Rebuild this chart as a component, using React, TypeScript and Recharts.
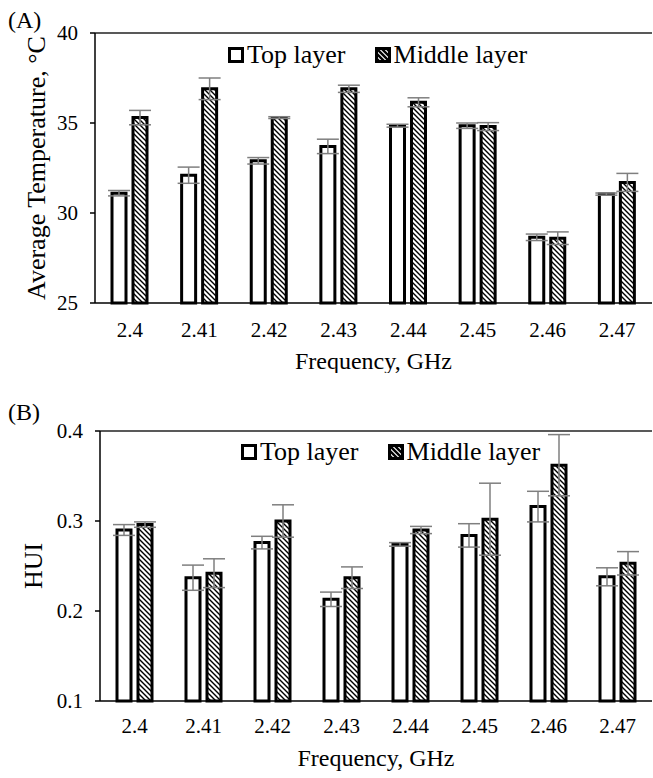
import React from "react";
import { BarChart, Bar, XAxis, YAxis, Legend, ReferenceLine, ErrorBar } from "recharts";

const freqs = ["2.4", "2.41", "2.42", "2.43", "2.44", "2.45", "2.46", "2.47"];

// (A) average temperature, °C
const tempTop = [31.1, 32.1, 32.9, 33.7, 34.85, 34.85, 28.65, 31.05];
const tempTopErr = [0.15, 0.45, 0.18, 0.4, 0.08, 0.15, 0.18, 0.06];
const tempMid = [35.3, 36.9, 35.3, 36.9, 36.15, 34.8, 28.6, 31.7];
const tempMidErr = [0.4, 0.6, 0.05, 0.2, 0.25, 0.22, 0.35, 0.5];
const tempTicks = [25, 30, 35, 40];

// (B) heating uniformity index
const huiTop = [0.29, 0.237, 0.276, 0.213, 0.274, 0.284, 0.316, 0.238];
const huiTopErr = [0.006, 0.014, 0.007, 0.008, 0.002, 0.013, 0.017, 0.01];
const huiMid = [0.296, 0.242, 0.3, 0.237, 0.29, 0.302, 0.362, 0.253];
const huiMidErr = [0.003, 0.016, 0.018, 0.012, 0.004, 0.04, 0.034, 0.013];
const huiTicks = [0.1, 0.2, 0.3, 0.4];

const seriesNames = { top: "Top layer", mid: "Middle layer" };

const FONT = "Liberation Serif";

const tempData = freqs.map((f, i) => ({
  freq: f,
  top: tempTop[i],
  topErr: tempTopErr[i],
  mid: tempMid[i],
  midErr: tempMidErr[i],
}));

const huiData = freqs.map((f, i) => ({
  freq: f,
  top: huiTop[i],
  topErr: huiTopErr[i],
  mid: huiMid[i],
  midErr: huiMidErr[i],
}));

function Hatch({ id, size = 5, w = 1.4 }: { id: string; size?: number; w?: number }) {
  return (
    <defs>
      <pattern id={id} patternUnits="userSpaceOnUse" width={size} height={size}>
        <rect width={size} height={size} fill="#fff" />
        <path
          d={`M0,0 L${size},${size} M${-size / 2},${size / 2} L${size / 2},${size * 1.5} M${size / 2},${-size / 2} L${size * 1.5},${size / 2}`}
          stroke="#000"
          strokeWidth={w}
        />
      </pattern>
    </defs>
  );
}

function LegendIcon({ hatched, id }: { hatched: boolean; id: string }) {
  return (
    <svg width={16} height={16} style={{ marginRight: 3 }}>
      {hatched && <Hatch id={id} size={5} w={2.4} />}
      <rect x={1.5} y={1.5} width={13} height={13} fill={hatched ? `url(#${id})` : "#fff"} stroke="#000" strokeWidth={3} />
    </svg>
  );
}

const order = ["top", "mid"];

const makeLegend = (tag: string) => (props: any) => {
  const items = [...(props.payload || [])].sort(
    (a: any, b: any) => order.indexOf(a.dataKey) - order.indexOf(b.dataKey)
  );
  return (
    <div style={{ display: "flex", alignItems: "center", fontFamily: FONT, fontSize: 26, lineHeight: "28px", color: "#000" }}>
      {items.map((it: any, i: number) => (
        <div key={i} style={{ display: "flex", alignItems: "center", marginRight: i === 0 ? 29 : 0 }}>
          <LegendIcon hatched={it.dataKey === "mid"} id={`legHatch${tag}${i}`} />
          <span>{it.value}</span>
        </div>
      ))}
    </div>
  );
};

const tickStyle = { fontFamily: FONT, fontSize: 21, fill: "#000" };

function Panel(props: {
  data: any[];
  tag: string;
  top: number;
  marginTop: number;
  plotBottom: number;
  yWidth: number;
  domain: [number, number];
  ticks: number[];
  fmt: (v: number) => string;
  yTitle: string;
  yTitleOffset: number;
  xTickMargin: number;
  xTitleOffset: number;
  legendTop: number;
  legendLeft: number;
}) {
  const xAxisH = 70;
  const height = props.plotBottom + xAxisH;
  const hatchId = `hatch${props.tag}`;
  return (
    <div style={{ position: "absolute", left: 0, top: props.top, width: 653, height, fontFamily: FONT }}>
      <BarChart
        width={653}
        height={height}
        data={props.data}
        margin={{ top: props.marginTop, right: 1, left: 0, bottom: 0 }}
        barSize={14}
        barGap={7}
        style={{ fontFamily: FONT }}
      >
        <Hatch id={hatchId} />
        <XAxis
          dataKey="freq"
          tickLine={false}
          axisLine={{ stroke: "#000", strokeWidth: 1.5 }}
          tick={tickStyle}
          tickMargin={props.xTickMargin}
          height={xAxisH}
          interval={0}
          label={{
            value: "Frequency, GHz",
            position: "insideBottom",
            offset: props.xTitleOffset,
            style: { fontFamily: FONT, fontSize: 24, fill: "#000" },
          }}
        />
        <YAxis
          type="number"
          domain={props.domain}
          ticks={props.ticks}
          tickFormatter={props.fmt}
          width={props.yWidth}
          tick={tickStyle}
          tickSize={5}
          tickMargin={12}
          axisLine={{ stroke: "#000", strokeWidth: 1.5 }}
          tickLine={{ stroke: "#000", strokeWidth: 1.5 }}
          label={{
            value: props.yTitle,
            angle: -90,
            position: "insideLeft",
            offset: props.yTitleOffset,
            style: { fontFamily: FONT, fontSize: 26, fill: "#000", textAnchor: "middle" },
          }}
        />
        <ReferenceLine y={props.domain[1]} stroke="#222" strokeWidth={1.5} />
        <Legend
          layout="horizontal"
          verticalAlign="middle"
          align="center"
          content={makeLegend(props.tag)}
          wrapperStyle={{ top: props.legendTop, left: props.legendLeft, width: "auto" }}
        />
        <Bar dataKey="top" name={seriesNames.top} fill="#fff" stroke="#000" strokeWidth={3} isAnimationActive={false}>
          <ErrorBar dataKey="topErr" width={11} stroke="#7f7f7f" strokeWidth={1.5} direction="y" />
        </Bar>
        <Bar dataKey="mid" name={seriesNames.mid} fill={`url(#${hatchId})`} stroke="#000" strokeWidth={3} isAnimationActive={false}>
          <ErrorBar dataKey="midErr" width={11} stroke="#7f7f7f" strokeWidth={1.5} direction="y" />
        </Bar>
      </BarChart>
    </div>
  );
}

const panelLabel: React.CSSProperties = {
  position: "absolute",
  left: 8,
  fontFamily: FONT,
  fontSize: 24,
  lineHeight: "28px",
  color: "#000",
};

export default function App() {
  return (
    <div style={{ position: "relative", width: 653, height: 778, background: "#fff", fontFamily: FONT }}>
      <style>{"body{margin:0;background:#fff}"}</style>
      <Panel
        data={tempData}
        tag="A"
        top={0}
        marginTop={33}
        plotBottom={303}
        yWidth={95}
        domain={[25, 40]}
        ticks={tempTicks}
        fmt={(v) => String(v)}
        yTitle="Average Temperature, °C"
        yTitleOffset={36}
        xTickMargin={13}
        xTitleOffset={4}
        legendTop={41}
        legendLeft={228}
      />
      <Panel
        data={huiData}
        tag="B"
        top={380}
        marginTop={51}
        plotBottom={321}
        yWidth={100}
        domain={[0.1, 0.4]}
        ticks={huiTicks}
        fmt={(v) => v.toFixed(1)}
        yTitle="HUI"
        yTitleOffset={33}
        xTickMargin={11}
        xTitleOffset={5}
        legendTop={58}
        legendLeft={241}
      />
      <div style={{ ...panelLabel, top: 6 }}>(A)</div>
      <div style={{ ...panelLabel, top: 398 }}>(B)</div>
    </div>
  );
}
